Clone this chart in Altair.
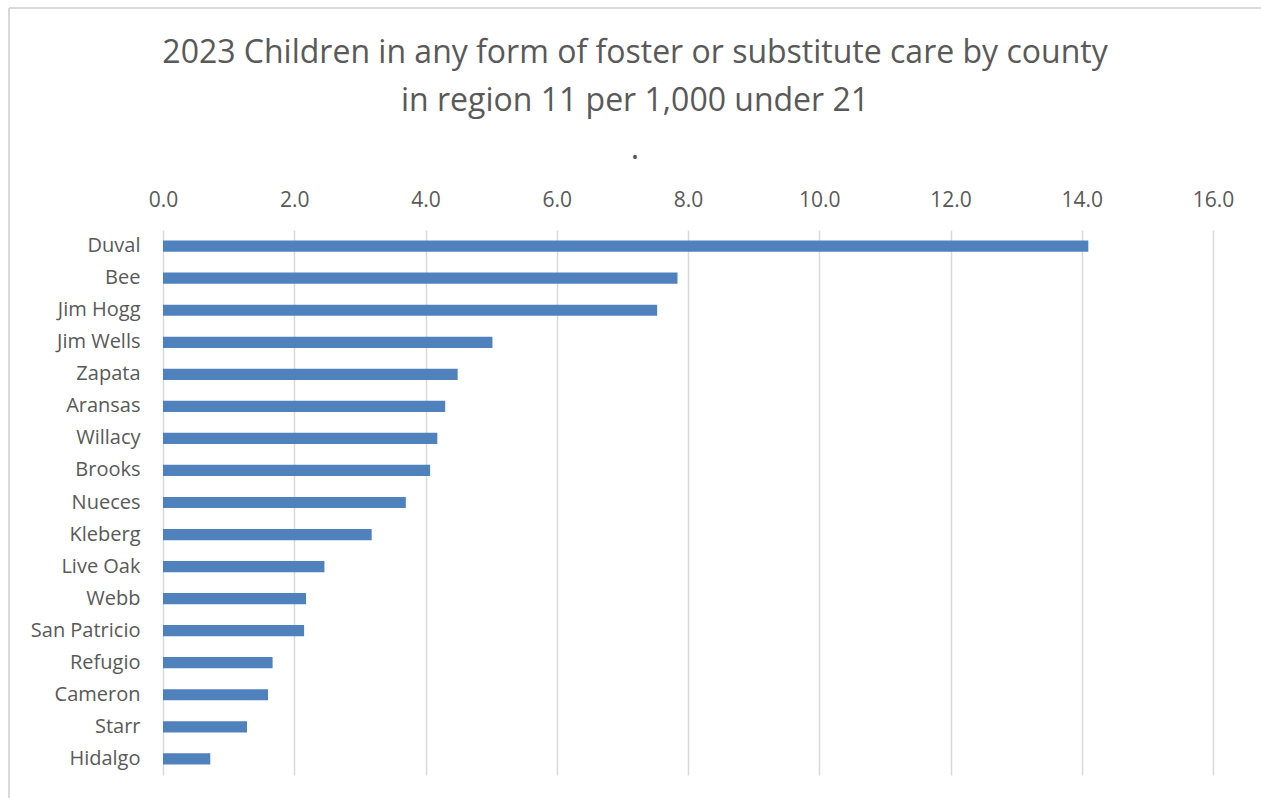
import altair as alt
import pandas as pd

counties = ["Duval", "Bee", "Jim Hogg", "Jim Wells", "Zapata", "Aransas", "Willacy",
            "Brooks", "Nueces", "Kleberg", "Live Oak", "Webb", "San Patricio",
            "Refugio", "Cameron", "Starr", "Hidalgo"]
rates = [14.10, 7.84, 7.53, 5.02, 4.49, 4.30, 4.18, 4.07, 3.70, 3.18, 2.46, 2.18,
         2.15, 1.67, 1.60, 1.28, 0.72]
title_lines = ["2023 Children in any form of foster or substitute care by county",
               "in region 11 per 1,000 under 21", "."]

df = pd.DataFrame({"county": counties, "rate": rates})

FONT = "Open Sans"
TEXT = "#595959"
GRID = "#d9d9d9"

bars = alt.Chart(df).mark_bar(color="#4f81bd").encode(
    x=alt.X("rate:Q",
            scale=alt.Scale(domain=[0, 16], nice=False),
            axis=alt.Axis(orient="top", values=list(range(0, 17, 2)), format=".1f",
                          title=None, domain=False, ticks=False, grid=True,
                          gridColor=GRID, gridWidth=1.5, labelPadding=20,
                          labelFlush=False,
                          labelFontSize=21, labelColor=TEXT, labelFont=FONT)),
    y=alt.Y("county:N", sort=counties,
            scale=alt.Scale(paddingInner=0.65, paddingOuter=0.33),
            axis=alt.Axis(title=None, domain=False, ticks=False, labelPadding=23,
                          labelFontSize=20, labelColor=TEXT, labelFont=FONT)),
)

# chart-area frame along the top and left edges
frame_top = alt.Chart(df).mark_rule(color=GRID, strokeWidth=1.5, clip=False).encode(
    x=alt.value(-154), x2=alt.value(1100), y=alt.value(-222))
frame_left = alt.Chart(df).mark_rule(color=GRID, strokeWidth=1.5, clip=False).encode(
    x=alt.value(-154), y=alt.value(-222), y2=alt.value(570))

chart = alt.layer(frame_top, frame_left, bars).properties(
    width=1050, height=545,
    autosize=alt.AutoSizeParams(type="none"),
    padding={"left": 163, "top": 230, "right": 48, "bottom": 23},
    title=alt.TitleParams(text=title_lines, anchor="middle", frame="group", dx=-53,
                          font=FONT, fontSize=32, fontWeight="normal", color=TEXT,
                          lineHeight=48, offset=-159),
).configure_view(stroke=None)

chart.save("out.html", embed_options={"renderer": "svg", "actions": False})
